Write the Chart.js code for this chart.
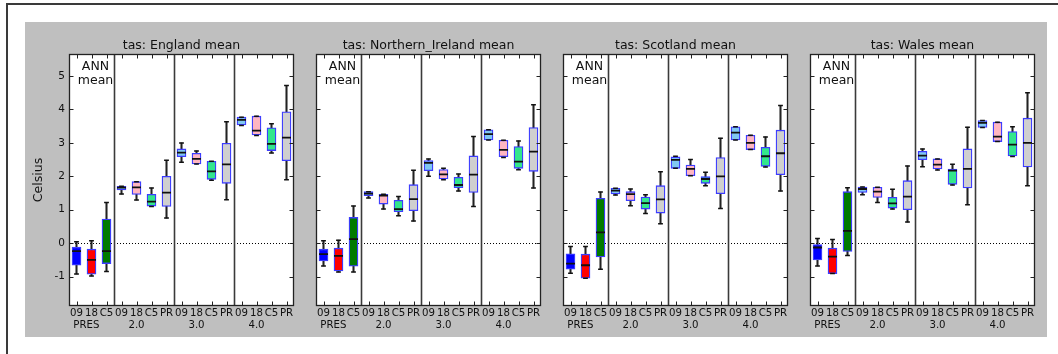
<!DOCTYPE html>
<html>
<head>
<meta charset="utf-8">
<script src="https://cdn.jsdelivr.net/npm/chart.js@4.4.0/dist/chart.umd.min.js"></script>
<style>
body { margin: 0; width: 1058px; height: 354px; overflow: hidden; background: #fff; position: relative; }
#frame { position: absolute; left: 6px; top: 3px; width: 1100px; height: 400px; border: 2px solid #3a3a3a; }
#gray { position: absolute; left: 25px; top: 22px; width: 1022px; height: 315px; background: #bfbfbf; }
canvas { position: absolute; top: 22px; }
</style>
</head>
<body>
<div id="frame"></div>
<div id="gray"></div>
<canvas id="c0" width="280" height="315" style="left:25px"></canvas>
<canvas id="c1" width="280" height="315" style="left:272px"></canvas>
<canvas id="c2" width="280" height="315" style="left:519px"></canvas>
<canvas id="c3" width="280" height="315" style="left:766px"></canvas>
<script>
'use strict'
// x categories: PRES (3 runs) then +2.0, +3.0, +4.0 (4 runs each)
let tickLabels = ['09', ['18', 'PRES\u2002\u2002'], 'C5',
    '09', ['18', '2.0'], 'C5', 'PR',
    '09', ['18', '3.0'], 'C5', 'PR',
    '09', ['18', '4.0'], 'C5', 'PR'];
let regionTitles = ['tas: England mean', 'tas: Northern_Ireland mean', 'tas: Scotland mean', 'tas: Wales mean'];
let yTicks = [-1, 0, 1, 2, 3, 4, 5];
let groupBreaks = [2.5, 6.5, 10.5];

// England
let engLo = [-0.92, -0.98, -0.85, 1.47, 1.29, 1.10, 0.75, 2.42, 2.37, 1.88, 1.30, 3.52, 3.22, 2.70, 1.90];
let engQ1 = [-0.66, -0.93, -0.61, 1.59, 1.46, 1.11, 1.10, 2.59, 2.37, 1.91, 1.79, 3.54, 3.24, 2.77, 2.47];
let engMed = [-0.24, -0.50, -0.24, 1.66, 1.67, 1.24, 1.51, 2.71, 2.52, 2.15, 2.36, 3.69, 3.37, 2.97, 3.16];
let engQ3 = [-0.12, -0.18, 0.72, 1.70, 1.84, 1.46, 2.00, 2.82, 2.69, 2.45, 2.99, 3.77, 3.80, 3.45, 3.93];
let engHi = [0.04, 0.07, 1.22, 1.70, 1.84, 1.65, 2.48, 3.00, 2.76, 2.45, 3.63, 3.77, 3.80, 3.57, 4.72];

// Northern Ireland
let niLo = [-0.68, -0.86, -0.86, 1.35, 1.02, 0.82, 0.66, 2.00, 1.90, 1.56, 1.10, 3.09, 2.56, 2.20, 1.65];
let niQ1 = [-0.53, -0.83, -0.69, 1.42, 1.17, 0.94, 0.97, 2.17, 1.92, 1.66, 1.52, 3.09, 2.59, 2.24, 2.15];
let niMed = [-0.33, -0.38, 0.12, 1.48, 1.42, 1.02, 1.32, 2.40, 2.06, 1.74, 2.05, 3.26, 2.79, 2.44, 2.74];
let niQ3 = [-0.18, -0.15, 0.77, 1.54, 1.46, 1.28, 1.75, 2.47, 2.20, 1.97, 2.61, 3.39, 3.08, 2.89, 3.46];
let niHi = [0.07, 0.09, 1.11, 1.54, 1.46, 1.40, 2.18, 2.52, 2.24, 2.07, 3.19, 3.39, 3.08, 3.06, 4.14];

// Scotland
let scoLo = [-0.90, -1.05, -0.78, 1.44, 1.12, 0.89, 0.58, 2.24, 2.02, 1.72, 1.04, 3.09, 2.80, 2.28, 1.56];
let scoQ1 = [-0.78, -1.05, -0.41, 1.47, 1.27, 1.02, 0.90, 2.24, 2.02, 1.79, 1.48, 3.09, 2.80, 2.30, 2.05];
let scoMed = [-0.61, -0.66, 0.32, 1.57, 1.47, 1.20, 1.31, 2.49, 2.22, 1.92, 2.00, 3.31, 3.00, 2.60, 2.69];
let scoQ3 = [-0.32, -0.33, 1.34, 1.64, 1.54, 1.38, 1.72, 2.58, 2.34, 1.99, 2.56, 3.48, 3.23, 2.87, 3.38];
let scoHi = [-0.10, -0.10, 1.53, 1.64, 1.62, 1.45, 2.14, 2.60, 2.50, 2.12, 3.14, 3.48, 3.23, 3.18, 4.12];

// Wales
let walLo = [-0.68, -0.91, -0.37, 1.45, 1.22, 1.02, 0.63, 2.29, 2.19, 1.74, 1.15, 3.46, 3.04, 2.59, 1.72];
let walQ1 = [-0.50, -0.91, -0.25, 1.52, 1.37, 1.05, 1.00, 2.50, 2.22, 1.76, 1.65, 3.46, 3.04, 2.61, 2.28];
let walMed = [-0.13, -0.40, 0.37, 1.62, 1.54, 1.19, 1.39, 2.62, 2.35, 2.17, 2.22, 3.60, 3.19, 2.95, 3.00];
let walQ3 = [-0.04, -0.15, 1.54, 1.68, 1.67, 1.37, 1.87, 2.75, 2.52, 2.22, 2.82, 3.67, 3.62, 3.34, 3.74];
let walHi = [0.14, 0.11, 1.66, 1.68, 1.67, 1.61, 2.31, 2.82, 2.52, 2.36, 3.47, 3.67, 3.62, 3.48, 4.50];

const boxFill = ['#0000ff', '#ff0000', '#007a00',
    '#80c8f2', '#ffb6c1', '#33e68c', '#cfcfcf',
    '#80c8f2', '#ffb6c1', '#33e68c', '#cfcfcf',
    '#80c8f2', '#ffb6c1', '#33e68c', '#cfcfcf'];
const boxEdge = '#3c3cff';

Chart.defaults.font.family = 'DejaVu Sans';
Chart.defaults.color = '#000';

// frame, separators, zero line, inward ticks, ANN label
const decor = {
    id: 'decor',
    beforeDraw(chart) {
        const a = chart.chartArea;
        chart.ctx.fillStyle = '#fff';
        chart.ctx.fillRect(a.left, a.top, a.width, a.height);
    },
    beforeDatasetsDraw(chart) {
        const ctx = chart.ctx, a = chart.chartArea;
        const x = chart.scales.x, y = chart.scales.y;
        ctx.save();
        ctx.strokeStyle = '#000';
        ctx.lineWidth = 1;
        ctx.setLineDash([1, 2]);
        let y0 = Math.round(y.getPixelForValue(0)) + 0.5;
        ctx.beginPath();
        ctx.moveTo(a.left, y0);
        ctx.lineTo(a.right, y0);
        ctx.stroke();
        ctx.setLineDash([]);
        ctx.strokeStyle = '#3a3a3a';
        ctx.lineWidth = 1.6;
        for (let b of groupBreaks) {
            let px = Math.round(x.getPixelForValue(b)) + 0.5;
            ctx.beginPath();
            ctx.moveTo(px, a.top);
            ctx.lineTo(px, a.bottom);
            ctx.stroke();
        }
        ctx.restore();
    },
    afterDraw(chart) {
        const ctx = chart.ctx, a = chart.chartArea;
        const x = chart.scales.x, y = chart.scales.y;
        ctx.save();
        ctx.strokeStyle = '#222';
        ctx.lineWidth = 1.3;
        let l = Math.round(a.left) + 0.5, r = Math.round(a.right) - 0.5;
        let t = Math.round(a.top) + 0.5, b = Math.round(a.bottom) - 0.5;
        ctx.strokeRect(l, t, r - l, b - t);
        ctx.lineWidth = 1;
        ctx.beginPath();
        for (let v of yTicks) {
            let py = Math.round(y.getPixelForValue(v)) + 0.5;
            ctx.moveTo(l, py); ctx.lineTo(l + 4, py);
            ctx.moveTo(r, py); ctx.lineTo(r - 4, py);
        }
        for (let i = 0; i < tickLabels.length; i++) {
            let px = Math.round(x.getPixelForValue(i)) + 0.5;
            ctx.moveTo(px, t); ctx.lineTo(px, t + 4);
            ctx.moveTo(px, b); ctx.lineTo(px, b - 4);
        }
        ctx.stroke();
        ctx.fillStyle = '#111';
        ctx.font = '12.5px "DejaVu Sans"';
        ctx.textAlign = 'center';
        ctx.textBaseline = 'middle';
        ctx.fillText('ANN', a.left + 26.5, a.top + 13);
        ctx.fillText('mean', a.left + 26.5, a.top + 26.5);
        ctx.restore();
    }
};

function capSet(values, radius, width) {
    return {
        type: 'line', data: values, showLine: false,
        pointStyle: 'line', pointRadius: radius, pointBorderWidth: width,
        pointBorderColor: '#111', pointBackgroundColor: '#111'
    };
}

function makePanel(id, title, lo, q1, med, q3, hi, first) {
    let boxes = q1.map((v, i) => [v, q3[i]]);
    let whiskers = lo.map((v, i) => [v, hi[i]]);
    return new Chart(document.getElementById(id), {
        type: 'bar',
        data: {
            labels: tickLabels,
            datasets: [
                Object.assign(capSet(med, 4.5, 1.8), { order: 0 }),
                Object.assign(capSet(hi, 2.4, 1.5), { order: 1 }),
                Object.assign(capSet(lo, 2.4, 1.5), { order: 1 }),
                {
                    type: 'bar', data: boxes, backgroundColor: boxFill, borderColor: boxEdge,
                    borderWidth: 1.3, borderSkipped: false, barThickness: 9, grouped: false, order: 2
                },
                {
                    type: 'bar', data: whiskers, backgroundColor: '#222',
                    borderWidth: 0, barThickness: 1.4, grouped: false, order: 3
                }
            ]
        },
        options: {
            responsive: false,
            animation: false,
            events: [],
            layout: { padding: { left: 0, right: 11, top: 0, bottom: 0 } },
            plugins: {
                legend: { display: false },
                tooltip: { enabled: false },
                title: {
                    display: true, text: title, fullSize: false, color: '#111',
                    font: { size: 12.5, weight: 'normal', lineHeight: 1.2 },
                    padding: { top: 16, bottom: 1 }
                }
            },
            scales: {
                x: {
                    type: 'category', offset: true,
                    grid: { display: false, drawTicks: false },
                    border: { display: false },
                    ticks: { autoSkip: false, maxRotation: 0, minRotation: 0, padding: 1, font: { size: 10.2, lineHeight: 1.2 }, color: '#111' },
                    afterFit: s => { s.height = 31; }
                },
                y: {
                    min: -1.88, max: 5.66,
                    grid: { display: false, drawTicks: false },
                    border: { display: false },
                    ticks: { display: first, stepSize: 1, includeBounds: false, padding: 4, font: { size: 10.5 }, color: '#111' },
                    title: { display: first, text: 'Celsius', color: '#111', font: { size: 12.5 }, padding: { top: 6, bottom: 0 } },
                    afterFit: s => { s.width = 44; }
                }
            }
        },
        plugins: [decor]
    });
}

makePanel('c0', regionTitles[0], engLo, engQ1, engMed, engQ3, engHi, true);
makePanel('c1', regionTitles[1], niLo, niQ1, niMed, niQ3, niHi, false);
makePanel('c2', regionTitles[2], scoLo, scoQ1, scoMed, scoQ3, scoHi, false);
makePanel('c3', regionTitles[3], walLo, walQ1, walMed, walQ3, walHi, false);
</script>
</body>
</html>
